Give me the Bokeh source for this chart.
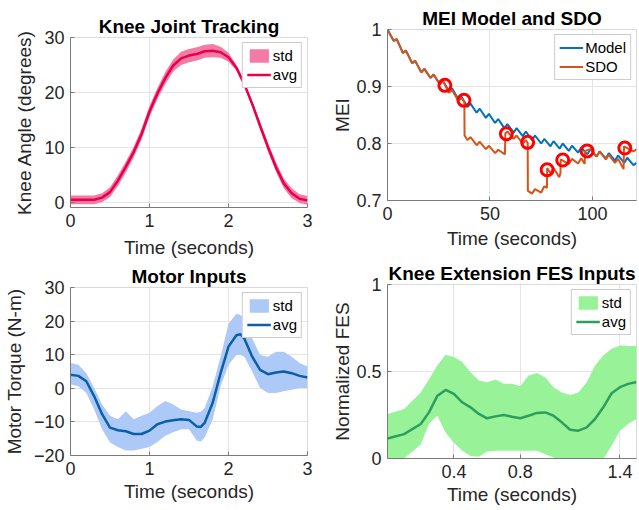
from bokeh.plotting import figure
from bokeh.layouts import row, column
from bokeh.models import FixedTicker, Range1d
from bokeh.embed import file_html
from bokeh.resources import INLINE

FONT = "Liberation Sans"

# ---------------- Knee joint tracking ----------------
knee_t = [0, 0.1, 0.2, 0.3, 0.4, 0.5, 0.6, 0.7, 0.8, 0.9, 1.0, 1.1, 1.2, 1.3, 1.4, 1.5,
          1.6, 1.7, 1.8, 1.9, 2.0, 2.1, 2.2, 2.3, 2.4, 2.5, 2.6, 2.7, 2.8, 2.9, 3.0]
knee_avg = [0.4, 0.4, 0.4, 0.4, 0.8, 1.8, 3.9, 6.4, 9.1, 12.4, 16.5, 19.8, 22.6, 24.9, 26.2, 26.7,
            27.0, 27.5, 27.6, 27.3, 26.4, 24.5, 21.5, 17.9, 13.9, 10.0, 6.4, 3.4, 1.6, 0.6, 0.3]
knee_std = [0.8, 0.8, 0.8, 0.8, 0.8, 0.9, 1.0, 1.0, 1.0, 1.0, 1.0, 1.0, 1.1, 1.1, 1.2, 1.2,
            1.2, 1.2, 1.2, 1.0, 0.8, 0.5, 0.5, 0.6, 0.7, 0.8, 0.9, 0.9, 0.9, 0.8, 0.8]

# ---------------- MEI model and SDO ----------------
model_t = [0, 3, 4.5, 7.5, 9, 12, 13.5, 16.5, 18, 21, 22.5, 25.5, 27, 30, 31.5, 34.5, 36, 39,
           40.5, 43.5, 45, 48, 49.5, 52.5, 54, 57, 58.5, 61.5, 63, 66, 67.5, 70.5, 72, 75,
           76.5, 79.5, 81, 84, 85.5, 88.5, 90, 93, 94.5, 97.5, 99, 102, 103.5, 106.5, 108,
           111, 112.5, 115.5, 117, 120, 121.5]
model_v = [1.000, 0.980, 0.983, 0.959, 0.963, 0.941, 0.945, 0.925, 0.931, 0.915, 0.921, 0.904,
           0.910, 0.892, 0.897, 0.878, 0.883, 0.864, 0.870, 0.854, 0.861, 0.845, 0.852, 0.836,
           0.843, 0.827, 0.834, 0.819, 0.827, 0.813, 0.821, 0.806, 0.814, 0.800, 0.808, 0.795,
           0.804, 0.791, 0.800, 0.787, 0.796, 0.784, 0.793, 0.781, 0.790, 0.777, 0.786, 0.774,
           0.783, 0.770, 0.779, 0.766, 0.775, 0.762, 0.766]
sdo_t = [0, 3, 4.5, 7.5, 9, 12, 13.5, 16.5, 18, 21, 22.5, 25.5, 27, 28, 30, 31.5, 34.5, 36,
         37.5, 37.6, 39, 40.5, 43.5, 45, 48, 49.5, 52.5, 54, 57.3, 57.5, 58.5, 61.5, 63, 66,
         67.5, 68.4, 68.5, 70.5, 72, 75, 76.5, 77.8, 77.9, 79.5, 81, 83.8, 84.4, 84.5, 88.5,
         90, 93, 94.5, 96.2, 96.4, 99, 102, 103.5, 106.5, 108, 111, 112.5, 115.2, 115.4, 117,
         120, 121.5]
sdo_v = [1.000, 0.980, 0.983, 0.959, 0.963, 0.941, 0.945, 0.925, 0.931, 0.915, 0.921, 0.904,
         0.910, 0.903, 0.889, 0.894, 0.875, 0.880, 0.873, 0.814, 0.806, 0.811, 0.797, 0.803,
         0.790, 0.796, 0.783, 0.789, 0.781, 0.818, 0.821, 0.808, 0.814, 0.800, 0.806, 0.801,
         0.717, 0.712, 0.720, 0.714, 0.725, 0.722, 0.757, 0.748, 0.757, 0.741, 0.748, 0.772,
         0.764, 0.773, 0.765, 0.774, 0.764, 0.787, 0.790, 0.777, 0.786, 0.772, 0.780, 0.766,
         0.773, 0.755, 0.795, 0.792, 0.786, 0.790]
upd_t = [28.0, 37.3, 58.0, 68.4, 77.9, 85.5, 97.4, 115.8]
upd_v = [0.902, 0.876, 0.817, 0.802, 0.754, 0.771, 0.787, 0.792]

# ---------------- Motor inputs ----------------
mot_t = [0, 0.1, 0.2, 0.3, 0.4, 0.5, 0.6, 0.7, 0.8, 0.9, 1.0, 1.1, 1.2, 1.3, 1.4, 1.5, 1.6,
         1.65, 1.7, 1.8, 1.9, 2.0, 2.1, 2.15, 2.2, 2.3, 2.4, 2.5, 2.6, 2.7, 2.8, 2.9, 3.0]
mot_avg = [4.0, 3.7, 2.1, -2.4, -7.7, -11.7, -12.5, -12.8, -13.6, -13.6, -12.6, -10.7, -9.9,
           -9.5, -9.2, -9.4, -11.4, -11.5, -10.2, -4.3, 4.5, 12.4, 15.8, 16.1, 14.8, 9.4, 5.5,
           4.2, 4.7, 5.0, 4.5, 3.7, 3.2]
mot_hi = [7.5, 7.0, 4.5, 0.1, -4.8, -8.2, -9.2, -6.8, -9.2, -8.2, -7.3, -5.3, -3.8, -4.8, -6.3,
          -6.8, -7.3, -7.0, -5.8, 0.6, 9.4, 19.2, 22.2, 21.8, 20.7, 14.8, 9.9, 9.4, 10.9, 10.9,
          9.4, 7.5, 6.5]
mot_lo = [1.1, 0.6, -1.4, -6.3, -12.2, -16.1, -17.5, -18.5, -18.5, -18.0, -17.5, -16.0, -14.1,
          -13.1, -12.2, -12.2, -15.6, -15.8, -14.6, -9.2, 0.6, 7.0, 9.9, 10.0, 9.4, 5.0, 0.1,
          -1.4, -1.4, -0.9, -0.4, 0.1, 0.1]

# ---------------- Knee extension FES inputs ----------------
fes_t = [0.0, 0.1, 0.2, 0.25, 0.3, 0.35, 0.4, 0.45, 0.5, 0.55, 0.6, 0.65, 0.7, 0.75, 0.8,
         0.85, 0.9, 0.95, 1.0, 1.05, 1.1, 1.15, 1.2, 1.25, 1.3, 1.35, 1.4, 1.45, 1.5]
fes_avg = [0.115, 0.14, 0.198, 0.265, 0.36, 0.394, 0.371, 0.323, 0.294, 0.256, 0.231, 0.242,
           0.25, 0.24, 0.231, 0.246, 0.262, 0.265, 0.246, 0.208, 0.165, 0.16, 0.179, 0.227,
           0.294, 0.375, 0.41, 0.429, 0.44]
fes_hi = [0.256, 0.285, 0.38, 0.455, 0.535, 0.596, 0.583, 0.554, 0.496, 0.448, 0.438, 0.454,
          0.429, 0.429, 0.415, 0.477, 0.492, 0.467, 0.41, 0.38, 0.365, 0.38, 0.438, 0.535,
          0.592, 0.631, 0.65, 0.646, 0.646]
fes_lo = [-0.02, 0.0, 0.08, 0.2, 0.245, 0.15, 0.09, 0.044, 0.015, 0.01, 0.04, 0.044, 0.044,
          0.044, 0.044, 0.044, 0.044, 0.025, 0.006, -0.013, -0.03, -0.03, -0.03, -0.02, -0.004,
          0.073, 0.16, 0.198, 0.227]


def make(title, w, h, left, right, top, bottom, xr, yr):
    p = figure(width=w, height=h, x_range=Range1d(*xr), y_range=Range1d(*yr),
               output_backend="svg", toolbar_location=None, title=title,
               min_border_left=left, min_border_right=right,
               min_border_top=top, min_border_bottom=bottom)
    p.background_fill_color = "white"
    p.border_fill_color = "white"
    p.outline_line_color = "#DADADA"
    p.title.text_font = FONT
    p.title.text_font_size = "19px"
    p.title.text_font_style = "bold"
    p.title.text_color = "black"
    p.title.align = "center"
    p.title.standoff = 2
    for ax in (p.xaxis[0], p.yaxis[0]):
        ax.axis_label_text_font = FONT
        ax.axis_label_text_font_size = "19px"
        ax.axis_label_text_font_style = "normal"
        ax.axis_label_text_color = "#262626"
        ax.major_label_text_font = FONT
        ax.major_label_text_font_size = "18px"
        ax.major_label_text_color = "#262626"
        ax.axis_line_color = "#7A7A7A"
        ax.major_tick_line_color = "#7A7A7A"
        ax.major_tick_in = 4
        ax.major_tick_out = 0
        ax.minor_tick_line_color = None
        ax.major_label_standoff = 6
    p.xaxis.axis_label_standoff = 3
    p.xgrid.grid_line_color = "#E4E4E4"
    p.ygrid.grid_line_color = "#E4E4E4"
    return p


def style_legend(p):
    lg = p.legend[0]
    lg.location = "top_right"
    lg.margin = 5
    lg.padding = 4
    lg.spacing = 2
    lg.label_text_font = FONT
    lg.label_text_font_size = "15px"
    lg.label_text_color = "black"
    lg.glyph_width = 24
    lg.glyph_height = 17
    lg.label_height = 17
    lg.label_standoff = 2
    lg.border_line_color = "#9A9A9A"
    lg.background_fill_color = "white"
    lg.background_fill_alpha = 1.0


# Panel 1
p1 = make("Knee Joint Tracking", 320, 262, 58, 9, 37, 55, (0, 3), (-1, 30))
p1.varea(x=knee_t, y1=[a - s for a, s in zip(knee_avg, knee_std)],
         y2=[a + s for a, s in zip(knee_avg, knee_std)],
         fill_color="#F47BA6", legend_label="std")
p1.line(knee_t, knee_avg, line_color="#E8004A", line_width=2.5, legend_label="avg")
p1.xaxis.ticker = FixedTicker(ticks=[0, 1, 2, 3])
p1.yaxis.ticker = FixedTicker(ticks=[0, 10, 20, 30])
p1.xaxis.axis_label = "Time (seconds)"
p1.xaxis.axis_label_standoff = 7
p1.yaxis.axis_label = "Knee Angle (degrees)"
p1.yaxis.axis_label_standoff = 6
style_legend(p1)

# Panel 2
p2 = make("MEI Model and SDO", 319, 255, 67, 3, 29, 55, (0, 121.5), (0.7, 1.0))
p2.line(model_t, model_v, line_color="#0072BD", line_width=2, legend_label="Model")
p2.line(sdo_t, sdo_v, line_color="#D95319", line_width=2, legend_label="SDO")
p2.scatter(upd_t, upd_v, marker="circle", size=12, fill_color=None,
           line_color="#FF0000", line_width=3)
p2.xaxis.ticker = FixedTicker(ticks=[0, 50, 100])
p2.yaxis.ticker = FixedTicker(ticks=[0.7, 0.8, 0.9, 1.0])
p2.yaxis.major_label_overrides = {1.0: "1", 1: "1"}
p2.xaxis.axis_label = "Time (seconds)"
p2.xaxis.axis_label_standoff = 5
p2.yaxis.axis_label = "MEI"
p2.yaxis.axis_label_standoff = 0
style_legend(p2)

# Panel 3
p3 = make("Motor Inputs", 320, 248, 59, 13, 23, 55, (0, 3), (-20, 30))
p3.varea(x=mot_t, y1=mot_lo, y2=mot_hi, fill_color="#ADC9F7", legend_label="std")
p3.line(mot_t, mot_avg, line_color="#0B5FA5", line_width=2.5, legend_label="avg")
p3.xaxis.ticker = FixedTicker(ticks=[0, 1, 2, 3])
p3.yaxis.ticker = FixedTicker(ticks=[-20, -10, 0, 10, 20, 30])
p3.xaxis.axis_label = "Time (seconds)"
p3.yaxis.axis_label = "Motor Torque (N-m)"
p3.yaxis.axis_label_standoff = 6
style_legend(p3)

# Panel 4
p4 = make("Knee Extension FES Inputs", 319, 255, 66, 2, 29, 52, (0, 1.5), (0, 1))
p4.varea(x=fes_t, y1=fes_lo, y2=fes_hi, fill_color="#98F298", legend_label="std")
p4.line(fes_t, fes_avg, line_color="#2E9E5E", line_width=2.5, legend_label="avg")
p4.xaxis.ticker = FixedTicker(ticks=[0.4, 0.8, 1.4])
p4.yaxis.ticker = FixedTicker(ticks=[0, 0.5, 1])
p4.yaxis.major_label_overrides = {0: "0", 1: "1"}
p4.xaxis.axis_label = "Time (seconds)"
p4.yaxis.axis_label = "Normalized FES"
p4.yaxis.axis_label_standoff = 0
style_legend(p4)

layout = row(column(p1, p3), column(p2, p4))
open("out.html", "w").write(file_html(layout, INLINE))
